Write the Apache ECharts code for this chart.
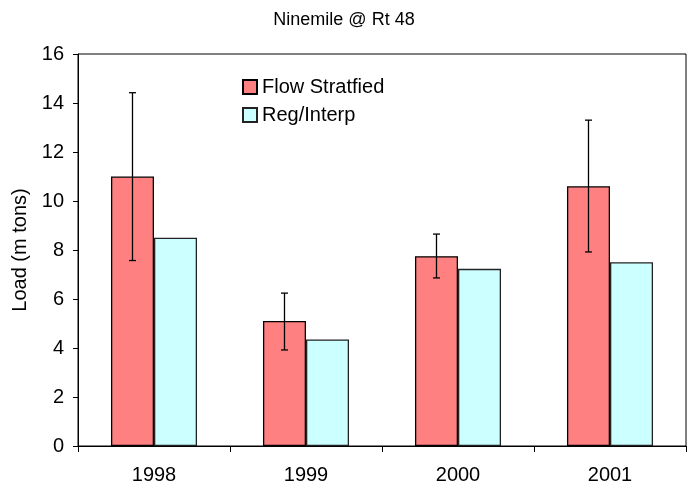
<!DOCTYPE html>
<html lang="en">
<head>
    <meta charset="UTF-8">
    <title>Ninemile @ Rt 48</title>
    <script src="https://cdn.jsdelivr.net/npm/echarts@6/dist/echarts.min.js"></script>
</head>
<body style="margin:0">
<div id="main" style="width:688px;height:490px"></div>
<script type="text/javascript">
    var years = ['1998', '1999', '2000', '2001'];
    var flowStrat = [11.0, 5.1, 7.75, 10.6];
    var regInterp = [8.5, 4.35, 7.23, 7.5];
    var errLow = [7.57, 3.92, 6.86, 7.92];
    var errHigh = [14.42, 6.24, 8.65, 13.3];

    var font = 'Liberation Sans, Arial, sans-serif';
    var barPct = 0.283;

    var errData = [];
    for (var i = 0; i < years.length; i++) {
        errData.push([i, errLow[i], errHigh[i]]);
    }

    var myChart = echarts.init(document.getElementById('main'));
    myChart.setOption({
        animation: false,
        title: {
            text: 'Ninemile @ Rt 48',
            left: 'center',
            top: 6,
            textStyle: {fontFamily: font, fontSize: 18, fontWeight: 'normal', color: '#000'}
        },
        legend: {
            data: ['Flow Stratfied', 'Reg/Interp'],
            orient: 'vertical',
            left: 237,
            top: 72,
            itemWidth: 14,
            itemHeight: 14,
            itemGap: 8,
            icon: 'rect',
            textStyle: {fontFamily: font, fontSize: 20, color: '#000'}
        },
        grid: {
            left: 78, right: 2, top: 54, bottom: 44,
            outerBoundsMode: 'none', containLabel: false,
            show: true, borderColor: '#000', borderWidth: 1
        },
        xAxis: {
            type: 'category',
            data: years,
            axisLine: {lineStyle: {color: '#000'}},
            axisTick: {show: true, length: 6, lineStyle: {color: '#000'}},
            axisLabel: {fontFamily: font, fontSize: 20, color: '#000', margin: 19}
        },
        yAxis: {
            type: 'value',
            min: 0,
            max: 16,
            interval: 2,
            name: 'Load (m tons)',
            nameLocation: 'middle',
            nameGap: 48,
            nameTextStyle: {fontFamily: font, fontSize: 20, color: '#000'},
            axisLine: {show: true, lineStyle: {color: '#000'}},
            axisTick: {show: true, length: 5, lineStyle: {color: '#000'}},
            splitLine: {show: false},
            axisLabel: {fontFamily: font, fontSize: 20, color: '#000', margin: 14}
        },
        series: [
            {
                name: 'Flow Stratfied', type: 'bar', data: flowStrat,
                barWidth: (barPct * 100) + '%', barGap: '0%',
                itemStyle: {color: '#FF8080', borderColor: '#000', borderWidth: 1.3}
            },
            {
                name: 'Reg/Interp', type: 'bar', data: regInterp,
                barWidth: (barPct * 100) + '%', barGap: '0%',
                itemStyle: {color: '#CCFFFF', borderColor: '#222', borderWidth: 1.3}
            },
            {
                type: 'custom',
                data: errData,
                z: 10,
                renderItem: function (params, api) {
                    var band = api.size([1, 0])[0];
                    var off = -band * barPct / 2;
                    var lo = api.coord([api.value(0), api.value(1)]);
                    var hi = api.coord([api.value(0), api.value(2)]);
                    var x = lo[0] + off;
                    var cap = 3.5;
                    var st = {stroke: '#000', lineWidth: 1.3};
                    return {
                        type: 'group',
                        children: [
                            {type: 'line', shape: {x1: x, y1: hi[1], x2: x, y2: lo[1]}, style: st},
                            {type: 'line', shape: {x1: x - cap, y1: hi[1], x2: x + cap, y2: hi[1]}, style: st},
                            {type: 'line', shape: {x1: x - cap, y1: lo[1], x2: x + cap, y2: lo[1]}, style: st}
                        ]
                    };
                }
            }
        ]
    });
</script>
</body>
</html>
